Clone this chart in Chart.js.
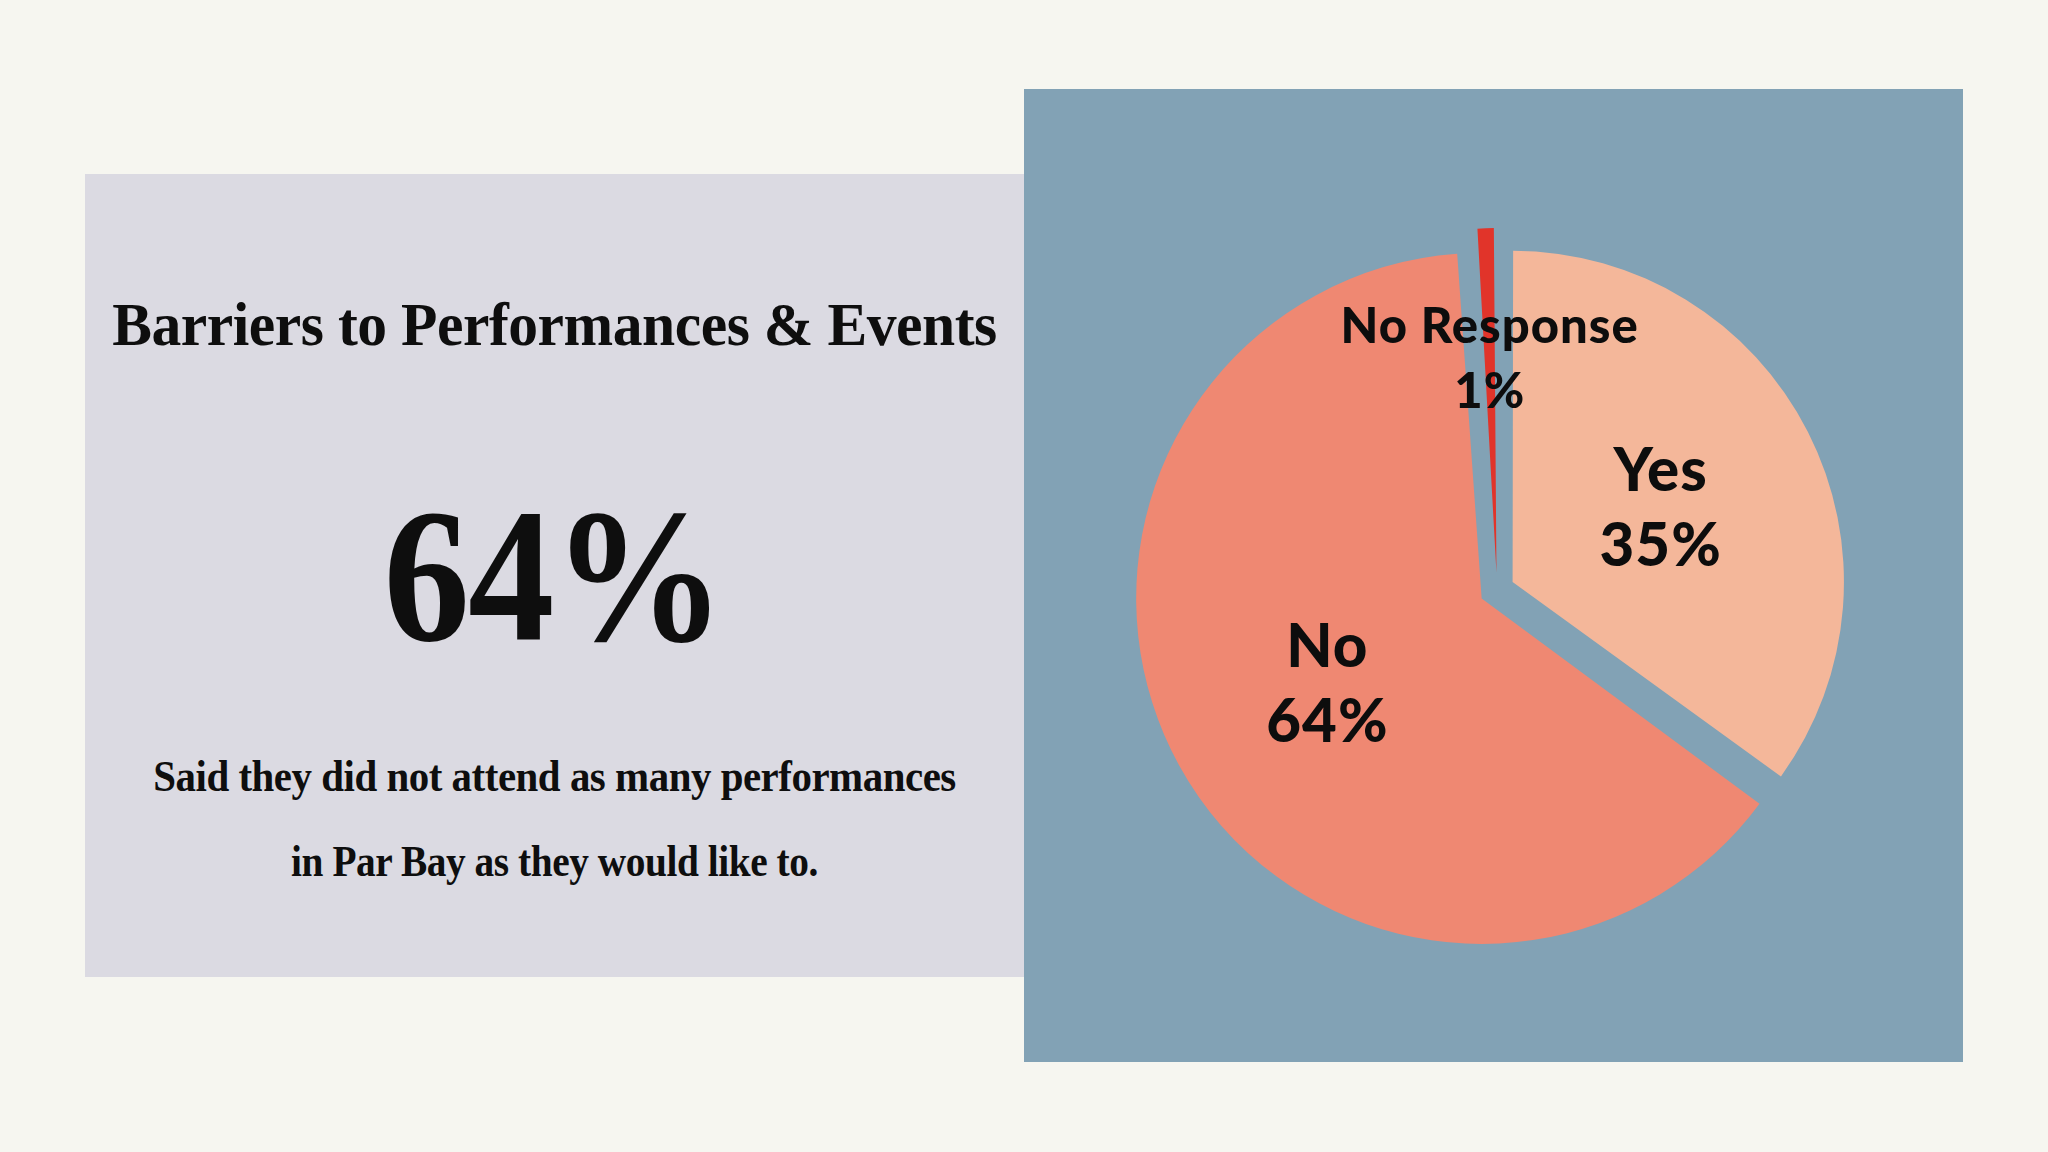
<!DOCTYPE html>
<html>
<head>
<meta charset="utf-8">
<script src="https://cdn.jsdelivr.net/npm/chart.js@4.4.1/dist/chart.umd.min.js"></script>
<style>
  html, body { margin: 0; padding: 0; width: 2048px; height: 1152px; overflow: hidden; background: #f6f6f0; }
  #leftPanel { position: absolute; left: 85px; top: 174px; width: 939px; height: 803px; background: #dbdae2; }
  #rightPanel { position: absolute; left: 1024px; top: 89px; width: 939px; height: 973px; background: #82a2b5; }
  .txt { position: absolute; left: 85px; width: 939px; text-align: center; white-space: nowrap; line-height: 1;
         font-family: "Liberation Serif", serif; font-weight: bold; color: #0e0e0e; transform-origin: 50% 50%; }
  #pieWrap { position: absolute; left: 1134px; top: 227px; width: 726px; height: 726px; }
</style>
</head>
<body>
<div id="leftPanel"></div>
<div id="rightPanel"></div>
<div class="txt" id="title"></div>
<div class="txt" id="bigStat"></div>
<div class="txt" id="note1"></div>
<div class="txt" id="note2"></div>
<div id="pieWrap"><canvas id="pie" width="726" height="726"></canvas></div>

<script>
// survey answers
const categories = ["Yes", "No", "No Response"];
const shares = [35, 64, 1];
const sliceColors = ["#f4b79a", "#ef8872", "#e1342a"];

const titleText = "Barriers to Performances & Events";
const noteLines = [
  "Said they did not attend as many performances",
  "in Par Bay as they would like to."
];

// left panel text: size, baseline, width to fit (squeezed horizontally)
function placeText(id, text, size, baseline, targetWidth, ls) {
  const el = document.getElementById(id);
  el.textContent = text;
  el.style.fontSize = size + "px";
  el.style.letterSpacing = ls + "px";
  const m = document.createElement("canvas").getContext("2d");
  m.font = "bold " + size + 'px "Liberation Serif"';
  const natural = m.measureText(text).width + ls * (text.length - 1);
  el.style.left = (85 + ls / 2) + "px";
  el.style.top = (baseline - 0.8375 * size) + "px";
  el.style.transform = "scaleX(" + (targetWidth / natural) + ")";
}

placeText("title", titleText, 62, 345, 885, -0.5);
placeText("bigStat", shares[1] + "%", 190, 640, 342, -2);
placeText("note1", noteLines[0], 44, 792, 803, -0.5);
placeText("note2", noteLines[1], 44, 877, 528, -0.5);

// labels inside the slices
const labelDist = [0.56, 0.59, 0.707];
const labelSize = [60, 60, 49];
const labelGap = [75, 75, 65];

const sliceLabels = {
  id: "sliceLabels",
  afterDatasetsDraw(chart) {
    const ctx = chart.ctx;
    const meta = chart.getDatasetMeta(0);
    meta.data.forEach((arc, i) => {
      const { x, y, startAngle, endAngle, outerRadius } =
        arc.getProps(["x", "y", "startAngle", "endAngle", "outerRadius"], true);
      const mid = (startAngle + endAngle) / 2;
      const cx = x + Math.cos(mid) * outerRadius * labelDist[i];
      const cy = y + Math.sin(mid) * outerRadius * labelDist[i];
      const size = labelSize[i];
      const cap = size * 0.716;
      const b1 = cy - (labelGap[i] - cap) / 2;
      ctx.save();
      ctx.font = "900 " + size + "px Lato";
      ctx.letterSpacing = "1px";
      ctx.fillStyle = "#0d0d0d";
      ctx.textAlign = "center";
      ctx.textBaseline = "alphabetic";
      ctx.fillText(chart.data.labels[i], cx, b1);
      ctx.fillText(chart.data.datasets[0].data[i] + "%", cx, b1 + labelGap[i]);
      ctx.restore();
    });
  }
};

new Chart(document.getElementById("pie"), {
  type: "pie",
  data: {
    labels: categories,
    datasets: [{
      data: shares,
      backgroundColor: sliceColors,
      borderWidth: 0,
      offset: 70
    }]
  },
  options: {
    responsive: false,
    animation: false,
    events: [],
    layout: { padding: 0 },
    plugins: {
      legend: { display: false },
      tooltip: { enabled: false }
    }
  },
  plugins: [sliceLabels]
});
</script>
</body>
</html>
